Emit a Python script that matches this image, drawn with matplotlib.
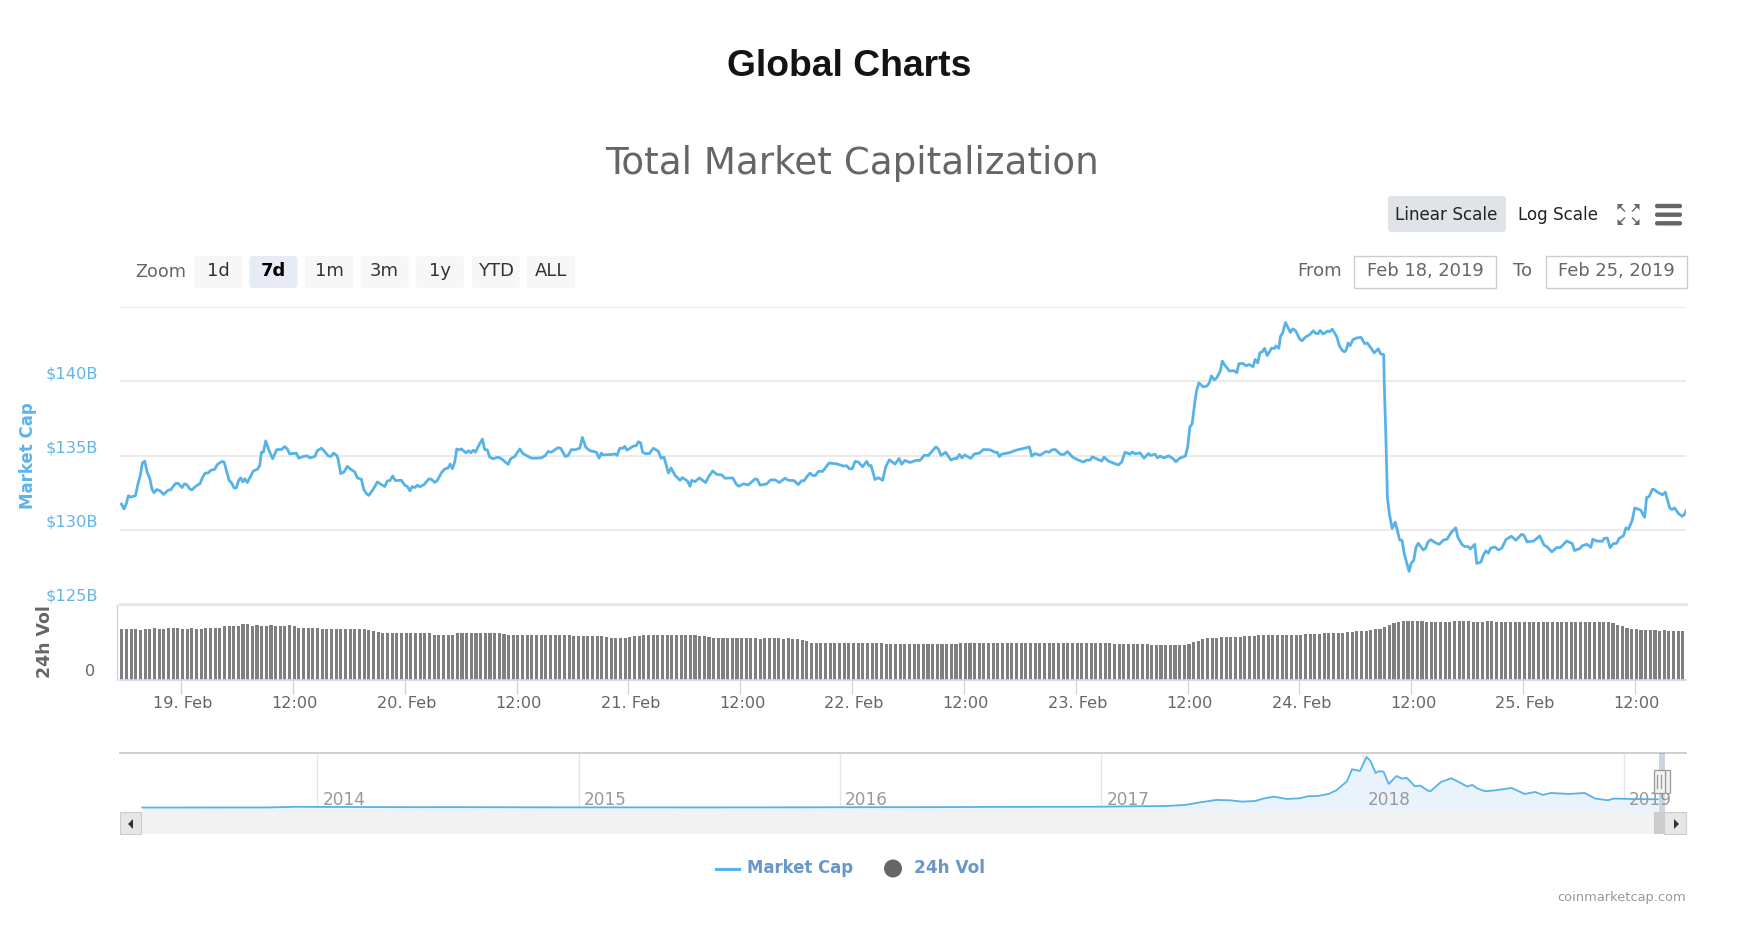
'''
Global Charts - total market cap, 7 day view with volume + navigator
x axis of the two main panels is hours after 19 Feb 00:00
'''
import numpy as np
import matplotlib
matplotlib.use("Agg")
import matplotlib.pyplot as plt
from matplotlib.patches import FancyBboxPatch, Rectangle, Polygon, Circle
from matplotlib.transforms import ScaledTranslation

cap_hours = [
 -6.35,-6.07,-5.82,-5.61,-5.36,-4.86,-4.58,-4.33,-4.12,-3.87,-3.59,-3.34,-3.09,-2.88,-2.59,-2.24,-1.85,-1.38,-1.10,-0.60,
 -0.32,0.11,0.36,0.60,0.96,1.17,1.53,2.02,2.31,2.59,2.88,3.16,3.59,3.87,4.37,4.58,4.83,5.11,5.36,5.64,
 5.89,6.14,6.35,6.57,6.78,7.06,7.42,7.70,8.13,8.38,8.56,8.77,9.02,9.34,9.76,10.19,10.69,11.04,11.32,11.57,
 12.28,12.53,12.99,13.45,13.70,14.24,14.52,14.95,15.30,15.66,15.94,16.26,16.58,16.72,17.00,17.36,17.71,18.07,18.50,18.78,
 19.21,19.45,19.74,19.99,20.45,20.91,21.34,21.69,21.97,22.26,22.54,22.83,23.47,23.82,24.10,24.39,24.60,24.89,25.17,25.42,
 25.88,26.38,26.66,27.02,27.30,27.73,28.08,28.44,28.65,28.90,29.15,29.36,29.64,29.86,30.35,30.64,30.85,31.13,31.35,31.70,
 32.09,32.34,32.62,32.87,33.23,33.76,34.12,34.83,35.11,35.54,36.07,36.42,36.78,37.31,37.67,38.38,38.80,39.09,39.44,40.15,
 40.43,40.93,41.22,41.57,41.93,42.46,42.74,43.10,43.52,44.23,44.52,44.77,44.94,45.83,46.19,46.43,46.72,47.07,47.25,47.50,
 48.14,48.49,48.71,
 48.95,49.16,49.45,49.87,50.30,50.83,51.12,51.44,51.90,52.18,52.61,53.14,53.39,53.92,54.21,54.38,54.74,55.20,55.87,56.23,
 56.62,57.05,57.58,57.93,58.75,59.17,59.42,59.89,60.42,61.13,61.38,61.66,62.37,62.80,63.26,63.72,64.32,64.68,65.28,65.74,
 66.10,66.35,66.63,66.99,67.24,67.55,67.87,68.33,69.01,69.82,70.54,70.89,71.17,71.49,71.78,72.13,72.59,73.02,73.30,73.48,
 73.91,74.26,74.72,75.04,75.43,76.04,76.46,76.75,77.10,77.64,78.27,78.70,79.16,79.59,80.40,80.65,80.94,81.43,82.00,82.43,
 82.61,82.89,83.17,83.46,84.10,84.49,85.02,85.45,86.16,86.69,86.94,87.15,87.40,88.29,88.82,89.17,89.71,90.35,90.59,90.95,
 91.48,92.12,92.47,92.72,93.11,93.68,94.04,94.39,94.96,95.56,96.10,96.45,96.81,97.05,98.05,98.30,98.76,99.29,99.82,100.18,
 100.53,101.07,101.32,101.60,102.13,102.56,103.02,103.27,103.73,103.98,104.26,
 104.69,105.16,105.63,105.95,106.35,106.96,107.21,107.43,107.68,107.97,108.15,108.40,108.87,109.23,109.49,109.74,110.03,110.31,110.68,110.89,
 111.18,111.65,112.12,112.44,112.66,113.09,113.41,113.74,114.17,114.39,114.68,114.89,115.18,115.40,115.68,116.15,116.44,116.62,116.91,117.09,
 117.31,117.63,117.92,118.14,118.39,118.68,119.14,119.40,119.76,120.19,120.59,120.84,121.09,121.31,121.63,122.10,122.32,122.60,123.07,123.36,
 123.65,123.90,124.08,124.30,124.51,124.80,125.16,125.67,126.06,126.32,126.79,127.07,127.51,127.76,128.08,128.15,128.33,128.48,128.70,128.98,
 129.31,129.60,129.78,130.03,130.28,130.50,130.79,131.00,131.29,131.51,131.76,132.30,132.55,132.80,133.09,133.63,133.99,134.46,134.82,135.25,
 135.76,135.97,136.41,136.70,137.06,137.31,137.78,137.99,138.43,138.71,138.97,139.22,139.47,139.94,140.30,140.66,141.09,141.67,142.17,142.75,
 143.00,143.36,144.05,144.70,145.17,145.45,146.00,146.50,146.90,147.58,148.16,148.41,148.95,149.24,149.74,150.14,150.36,150.75,151.36,151.58,
 151.90,152.19,152.55,152.91,153.13,153.63,153.89,154.14,154.54,154.82,155.44,155.87,156.08,156.34,156.70,156.88,157.24,157.78,158.07,158.54,
 158.79,159.04,159.51,159.87,160.09,160.34]

cap_values = [
 131.73,131.40,131.78,132.29,132.20,132.29,133.11,133.67,134.49,134.62,133.84,133.49,132.73,132.49,132.71,132.62,132.38,132.67,132.69,133.11,
 133.13,132.84,133.09,133.04,132.73,132.69,132.91,133.11,133.56,133.82,133.82,134.00,134.07,134.40,134.60,134.56,134.00,133.33,133.18,132.82,
 132.82,133.33,133.49,133.22,133.44,133.18,133.62,133.96,134.07,134.33,135.22,135.22,135.98,135.38,134.78,135.40,135.40,135.60,135.44,135.11,
 135.16,134.82,134.93,134.98,134.84,134.93,135.33,135.49,135.27,134.98,134.93,135.16,135.00,134.78,133.78,133.89,134.27,134.07,133.89,133.49,
 133.40,132.73,132.44,132.31,132.71,133.22,133.04,132.91,133.29,133.31,133.62,133.31,133.33,133.00,132.91,132.62,132.91,132.84,133.00,132.89,
 133.04,133.42,133.40,133.18,133.33,133.84,134.09,134.16,134.42,134.11,134.56,135.44,135.38,135.44,135.18,135.33,135.18,135.36,135.22,135.67,
 136.11,135.40,135.38,134.89,134.78,134.89,134.78,134.40,134.78,134.93,135.44,135.13,135.00,134.82,134.82,134.84,135.00,135.27,135.22,135.53,
 135.49,134.93,135.00,135.40,135.38,135.49,136.22,135.56,135.33,135.22,134.82,135.16,135.04,135.07,135.11,135.00,135.49,135.49,135.62,135.36,
 135.62,135.67,135.93,
 135.84,135.22,135.13,135.13,135.49,135.29,134.82,134.89,133.82,134.16,133.67,133.33,133.51,133.29,132.93,133.33,133.24,133.49,133.18,133.62,
 133.96,133.73,133.69,133.47,133.49,133.04,132.93,133.09,133.02,133.42,133.38,133.00,133.09,133.36,133.36,133.18,133.47,133.33,133.31,133.04,
 133.31,133.29,133.56,133.82,133.67,133.64,133.93,133.93,134.49,134.44,134.29,134.31,134.11,134.11,134.60,134.56,134.24,134.60,134.29,134.33,
 133.38,133.51,133.33,134.22,134.71,134.42,134.80,134.42,134.67,134.53,134.67,134.67,135.02,135.00,135.58,135.44,135.00,135.22,134.69,134.82,
 134.78,135.07,134.84,135.04,134.80,135.11,135.16,135.40,135.38,135.22,135.20,134.93,135.09,135.20,135.33,135.40,135.47,135.58,134.96,135.13,
 135.02,135.27,135.22,135.38,135.40,135.07,135.07,135.27,134.89,134.69,134.56,134.69,134.69,134.91,134.62,134.89,134.62,134.49,134.36,134.56,
 135.22,135.09,135.24,135.11,135.18,134.82,135.13,135.00,135.09,134.84,134.96,
 134.84,134.98,134.80,134.58,134.82,134.96,135.58,136.91,137.13,138.58,139.36,139.89,139.62,139.67,139.87,140.36,140.09,140.24,140.69,141.36,
 141.07,140.69,140.71,140.58,141.18,141.20,141.04,141.13,140.98,141.47,141.24,141.91,142.00,142.22,141.73,142.24,142.20,142.38,142.22,143.02,
 143.24,143.96,143.58,143.29,143.53,143.42,142.84,142.73,142.98,143.13,143.40,143.22,143.20,143.42,143.18,143.38,143.33,143.51,143.02,142.40,
 142.09,141.98,142.09,142.58,142.40,142.80,142.91,142.96,142.53,142.58,142.18,141.91,142.18,141.84,141.80,139.69,135.91,132.13,131.02,130.09,
 130.51,129.80,129.31,129.29,128.36,127.87,127.20,127.73,127.96,128.80,129.09,128.64,128.76,129.18,129.33,129.11,129.02,129.31,129.36,129.80,
 130.13,129.51,129.02,128.87,128.87,128.71,129.02,127.73,127.82,128.31,128.58,128.42,128.76,128.84,128.64,128.76,129.33,129.56,129.29,129.69,
 129.64,129.18,129.24,129.58,128.96,128.87,128.51,128.80,128.80,129.24,129.07,128.60,128.73,128.93,129.02,128.82,129.36,129.24,129.22,129.42,
 129.44,128.80,129.07,129.09,129.40,129.60,130.13,130.02,130.62,131.47,131.33,130.84,132.18,132.22,132.73,132.71,132.53,132.36,132.53,131.47,
 131.36,131.47,131.07,130.91,131.02,131.33]

# one bar every 30 min, $B
vol_values = [
 20.4,20.4,20.4,20.4,20.0,20.4,20.4,21.0,20.4,20.4,21.0,21.0,21.0,20.3,
 20.4,21.0,20.4,20.4,21.0,21.0,21.0,21.0,21.6,21.6,21.6,21.6,22.3,22.3,
 21.6,21.9,21.6,21.6,21.9,21.6,21.6,21.6,22.0,21.6,21.0,21.0,21.0,21.0,
 21.0,20.4,20.4,20.4,20.4,20.4,20.4,20.4,20.4,20.4,20.4,20.0,19.6,19.2,
 18.7,18.7,18.7,18.7,18.7,18.7,18.7,18.7,18.7,18.7,18.7,18.0,18.0,18.0,
 18.0,18.0,18.7,18.7,18.8,18.7,18.7,18.7,18.8,18.7,18.7,18.7,18.5,18.0,
 18.0,18.0,18.0,18.0,18.0,18.0,18.0,18.0,18.0,18.0,18.0,18.0,18.0,17.7,
 17.6,17.8,17.5,17.5,17.5,17.5,17.4,16.8,16.8,16.8,17.0,17.2,17.5,17.7,
 18.0,18.0,18.0,18.1,18.0,18.0,18.0,18.0,17.9,17.9,18.0,17.9,17.8,17.5,
 17.2,17.0,16.8,16.8,16.7,16.7,16.7,16.8,16.7,16.7,16.7,16.6,16.7,16.7,16.7,16.7,16.6,16.7,16.6,16.5,16.2,
 15.5,15.0,15.0,14.9,15.0,15.0,14.9,14.9,15.0,14.9,14.9,14.9,14.8,14.8,14.8,14.7,14.7,14.6,
 14.5,14.5,14.5,14.5,14.5,14.5,14.5,14.5,14.5,14.5,14.5,14.5,14.5,14.6,14.6,14.7,
 14.9,14.9,14.9,14.9,14.9,14.9,15.0,15.0,14.9,14.9,14.9,14.9,15.0,15.0,14.9,14.9,
 14.9,14.9,14.9,14.9,14.9,15.0,15.0,14.9,14.9,14.9,14.9,14.9,14.9,14.9,14.8,14.8,
 14.6,14.5,14.5,14.4,14.4,14.4,14.3,14.3,14.2,14.2,14.2,14.1,14.0,14.0,14.0,14.1,
 14.6,15.2,15.8,16.3,16.7,
 17.0,17.0,17.1,17.2,17.3,17.3,17.4,17.5,17.5,17.6,
 17.9,18.0,18.0,18.0,18.0,18.1,18.0,18.0,18.0,18.1,
 18.5,18.5,18.6,18.6,18.7,18.7,18.8,18.8,18.8,
 19.4,19.4,19.5,19.6,19.8,20.0,20.3,20.5,
 21.3,22.0,22.8,23.3,23.6,23.8,23.8,23.8,
 23.5,23.4,23.4,23.4,23.3,23.4,23.4,23.8,23.8,23.8,23.6,23.4,23.4,23.4,23.5,23.5,23.4,23.4,23.4,23.3,23.4,
 23.4,23.4,23.4,23.4,23.4,23.4,23.3,23.4,23.4,23.4,23.4,23.4,23.4,23.4,23.4,23.4,23.4,23.4,23.4,23.3,
 22.9,22.2,21.5,20.9,20.5,20.3,20.1,20.0,19.9,
 19.9,19.8,19.9,19.8,19.8,19.8,19.6]

cap_ticks = [125, 130, 135, 140, 145]
cap_tick_labels = ["$125B", "$130B", "$135B", "$140B", ""]
time_ticks = [0, 12, 24, 36, 48, 60, 72, 84, 96, 108, 120, 132, 144, 156]
time_labels = ["19. Feb", "12:00", "20. Feb", "12:00", "21. Feb", "12:00", "22. Feb",
               "12:00", "23. Feb", "12:00", "24. Feb", "12:00", "25. Feb", "12:00"]

nav_years = [2013.33,2013.80,2013.88,2013.92,2014.00,2014.20,2014.40,2014.50,2014.80,2015.00,2015.50,2015.90,2016.00,2016.40,2016.60,2016.90,
 2017.00,2017.14,2017.24,2017.32,2017.38,2017.44,2017.49,2017.54,2017.59,2017.62,2017.66,2017.71,2017.76,2017.79,2017.83,2017.87,
 2017.90,2017.94,2017.96,2017.99,2018.015,2018.03,2018.05,2018.06,2018.08,2018.10,2018.13,2018.15,2018.17,2018.20,2018.22,2018.25,
 2018.26,2018.30,2018.34,2018.38,2018.40,2018.42,2018.44,2018.47,2018.51,2018.57,2018.62,2018.66,2018.69,2018.72,2018.79,2018.85,
 2018.89,2018.94,2018.96,2019.03,2019.13]
nav_caps = [4,5,12,16,14,12,10,11,8,7,6,8,9,11,14,16,
 18,25,28,46,90,128,123,100,112,150,182,144,155,188,193,226,
 286,433,629,602,831,765,569,596,591,389,520,477,487,351,362,281,
 270,422,482,395,346,373,313,270,286,324,226,259,210,242,226,242,
 150,123,150,144,139]
nav_year_ticks = [2014, 2015, 2016, 2017, 2018, 2019]

W, H = 1740, 938
BLUE = "#57b3e7"
GRID = "#e6e6e6"
AXIS = "#ccd6eb"
TXT = "#666666"
FONT = "DejaVu Sans"
RIGHT = 1686

plt.rcParams['font.family'] = [FONT]
fig = plt.figure(figsize=(W/100, H/100), dpi=100, facecolor="white")

def rect(left, top, right, bottom):
  # pixel box -> figure fractions
  return [left/W, 1-bottom/H, (right-left)/W, (bottom-top)/H]

#~~~~~~~~~~~~~~~~~~~~~~~~~~~main panel~~~~~~~~~~~~~~~~~~~~~~~~~~~~~~~~~~~~~~~~#
xlim = (-6.55, 161.48)
ax = fig.add_axes(rect(120, 307, RIGHT, 604))
ax.patch.set_alpha(0)
# hours were read with a slightly short pixel scale, 1.0075 puts them back on the ticks
ax.plot(np.array(cap_hours)*1.0075, cap_values, color=BLUE, lw=2.0, solid_joinstyle="round")
ax.set_xlim(xlim)
ax.set_ylim(125, 145)
ax.set_yticks(cap_ticks)
ax.set_yticklabels(cap_tick_labels, color="#62b5ea", fontsize=11.7)
ax.set_xticks([])
ax.grid(axis="y", color=GRID, lw=1.1)
ax.set_axisbelow(True)
ax.tick_params(axis="y", length=0, pad=15.8)
for lbl in ax.get_yticklabels():
  lbl.set_transform(lbl.get_transform() + ScaledTranslation(0, 9/100, fig.dpi_scale_trans))
for s in ax.spines.values():
  s.set_visible(False)
ax.spines["bottom"].set_visible(True)
ax.spines["bottom"].set_color(GRID)
ax.spines["bottom"].set_linewidth(2.2)

#~~~~~~~~~~~~~~~~~~~~~~~~~~~volume panel~~~~~~~~~~~~~~~~~~~~~~~~~~~~~~~~~~~~~~#
ax2 = fig.add_axes(rect(120, 606, RIGHT, 680))
ax2.patch.set_alpha(0)
vol_x = -6.35 + 0.5*np.arange(len(vol_values))
ax2.bar(vol_x, vol_values, width=0.33, color="#7f7f7f", linewidth=0)
ax2.set_xlim(xlim)
ax2.set_ylim(0, 29.6)
ax2.set_yticks([])
ax2.set_xticks(time_ticks)
ax2.set_xticklabels(time_labels, color=TXT, fontsize=11.6)
ax2.tick_params(axis="x", length=10, width=1, color=AXIS, pad=1.5)
for lbl in ax2.get_xticklabels():
  lbl.set_transform(lbl.get_transform() + ScaledTranslation(2/100, 0, fig.dpi_scale_trans))
for s in ax2.spines.values():
  s.set_visible(False)
ax2.spines["bottom"].set_visible(True)
ax2.spines["bottom"].set_color(AXIS)
ax2.spines["bottom"].set_linewidth(1.2)

#~~~~~~~~~~~~~~~~~~~~~~~~~~~navigator~~~~~~~~~~~~~~~~~~~~~~~~~~~~~~~~~~~~~~~~~#
ax3 = fig.add_axes(rect(120, 753, RIGHT, 812))
ax3.patch.set_alpha(0)
ax3.fill_between(nav_years, nav_caps, -69, color="#eaf3fb", lw=0)
ax3.plot(nav_years, nav_caps, color=BLUE, lw=1.3)
ax3.set_xlim(2013.2445, 2019.2377)
ax3.set_ylim(-69, 895)
ax3.set_yticks([])
ax3.set_xticks(nav_year_ticks)
ax3.set_xticklabels([])
ax3.tick_params(axis="x", length=0)
ax3.grid(axis="x", color=GRID, lw=1)
ax3.set_axisbelow(True)
for s in ax3.spines.values():
  s.set_visible(False)
ax3.spines["top"].set_visible(True)
ax3.spines["top"].set_color("#cccccc")
ax3.spines["top"].set_linewidth(1.3)
for yr in nav_year_ticks:
  ax3.annotate(str(yr), xy=(yr, 0), xycoords=("data", "axes fraction"), xytext=(5, 12),
               textcoords="offset pixels", color="#999999", fontsize=12.2, va="center", ha="left")

#~~~~~~~~~~~~~~~~~~~~~~~~~~~page furniture~~~~~~~~~~~~~~~~~~~~~~~~~~~~~~~~~~~~#
ui = fig.add_axes([0, 0, 1, 1], zorder=5)
ui.patch.set_alpha(0)
ui.set_xlim(0, W)
ui.set_ylim(H, 0)
ui.axis("off")

def button(x0, y0, x1, y1, fc, ec="none", r=3):
  ui.add_patch(FancyBboxPatch((x0+r, y0+r), x1-x0-2*r, y1-y0-2*r, boxstyle="round,pad=%d" % r,
                              fc=fc, ec=ec, lw=0))

def label(x, y, s, size=11.6, color=TXT, ha="center", **kw):
  ui.text(x, y, s, fontsize=size, color=color, ha=ha, va="center", **kw)

label(849.5, 67, "Global Charts", size=26.8, color="#141414", family="Liberation Sans", weight="bold")
label(852, 163, "Total Market Capitalization", size=26.8, color=TXT)

label(161, 272, "Zoom", size=12.7)
zoom_names = ["1d", "7d", "1m", "3m", "1y", "YTD", "ALL"]
zoom_left = [194, 249.5, 305, 360.6, 416, 471.7, 527]
for name, x0 in zip(zoom_names, zoom_left):
  on = name == "7d"
  button(x0, 256, x0+48, 288, "#e6ebf5" if on else "#f7f7f7")
  label(x0+24, 271, name, size=13, color="black" if on else "#333333", weight="bold" if on else "normal")

button(1388, 196, 1506, 232, "#e0e3e8")
label(1446, 215, "Linear Scale", size=12.1, color="#222222")
label(1558, 215, "Log Scale", size=12.1, color="#222222")

# fullscreen icon
for sx, sy in [(-1, -1), (1, -1), (-1, 1), (1, 1)]:
  cx, cy = 1628.5+sx*11, 214.5+sy*10.5
  ui.add_patch(Polygon([(cx, cy), (cx-sx*6, cy), (cx, cy-sy*6)], fc="#666666", ec="none"))
  ui.plot([cx-sx*3, cx-sx*7], [cy-sy*3, cy-sy*7], color="#666666", lw=1)
# menu icon
for y in [206, 214.7, 223.3]:
  button(1655, y-2.2, 1682, y+2.2, "#666666", r=2)

label(1320, 271.5, "From", size=13)
label(1523, 271.5, "To", size=13)
for x0, x1, s in [(1354, 1496, "Feb 18, 2019"), (1546, 1687, "Feb 25, 2019")]:
  ui.add_patch(Rectangle((x0, 256), x1-x0, 32, fc="white", ec="#cccccc", lw=1))
  label((x0+x1)/2, 271, s, size=12.9)

label(28, 456, "Market Cap", size=12, color="#5db4e8", rotation=90, weight="bold")
label(45.5, 642, "24h Vol", size=12.5, rotation=90, weight="bold")
label(90, 671, "0")
ui.plot([116.6, 116.6], [605, 680], color=AXIS, lw=1)

# scrollbar + selection handle
ui.add_patch(Rectangle((120, 812), RIGHT-120, 22, fc="#f2f2f2", ec="none"))
ui.add_patch(Rectangle((120, 812), 21.5, 22, fc="#e6e6e6", ec="#cccccc", lw=0.8))
ui.add_patch(Polygon([(133, 819), (133, 829), (128, 824)], fc="#333333", ec="none"))
ui.add_patch(Rectangle((1654, 812), 10.4, 22, fc="#cccccc", ec="none"))
ui.add_patch(Rectangle((1664.4, 812), 21.3, 22, fc="#e6e6e6", ec="#cccccc", lw=0.8))
ui.add_patch(Polygon([(1674, 819), (1674, 829), (1679, 824)], fc="#333333", ec="none"))
ui.add_patch(Rectangle((1659, 753), 5.7, 59, fc="#667eaa", alpha=0.33, ec="none"))
ui.add_patch(Rectangle((1665.5, 770), 4.5, 23, fc="#f2f2f2", ec="#999999", lw=0.9))
ui.add_patch(Rectangle((1653.7, 770), 11.8, 23, fc="#f2f2f2", ec="#999999", lw=0.9))
ui.plot([1657.5, 1657.5], [775, 788], color="#999999", lw=0.9)
ui.plot([1661, 1661], [775, 788], color="#999999", lw=0.9)

# legend
ui.plot([716, 739], [869, 869], color=BLUE, lw=2.2)
label(747.5, 868, "Market Cap", size=11.9, color="#6b97c7", ha="left", weight="bold")
ui.add_patch(Circle((893, 868.5), 9, fc="#666666", ec="none"))
label(914, 868, "24h Vol", size=12.2, color="#6b97c7", ha="left", weight="bold")
label(RIGHT, 897, "coinmarketcap.com", size=9.4, color="#999999", ha="right")

fig.savefig("out.png", dpi=100)
